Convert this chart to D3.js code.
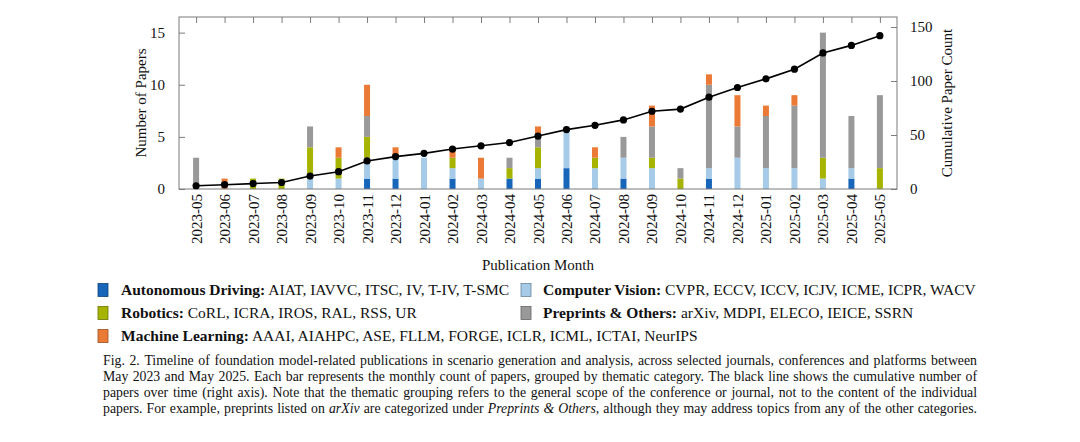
<!DOCTYPE html>
<html>
<head>
<meta charset="utf-8">
<script src="https://cdn.jsdelivr.net/npm/d3@7"></script>
<style>
  html, body { margin: 0; padding: 0; background: #fff; }
  svg { display: block; }
  text { font-family: "Liberation Serif", "Times New Roman", serif; fill: #111; }
</style>
</head>
<body>
<svg id="chart" width="1080" height="442"></svg>
<script>
// ---------------- DATA ----------------
const months = ["2023-05","2023-06","2023-07","2023-08","2023-09","2023-10","2023-11","2023-12",
  "2024-01","2024-02","2024-03","2024-04","2024-05","2024-06","2024-07","2024-08","2024-09","2024-10",
  "2024-11","2024-12","2025-01","2025-02","2025-03","2025-04","2025-05"];

const autonomousDriving = [0,0,0,0,0,0,1,1,0,1,0,1,1,2,0,1,0,0,1,0,0,0,0,1,0];
const computerVision    = [0,0,0,0,1,1,2,2,3,1,1,0,1,4,2,2,2,0,1,3,2,2,1,1,0];
const robotics          = [0,0,1,1,3,2,2,0,0,1,0,1,2,0,1,0,1,1,0,0,0,0,2,0,2];
const preprintsOthers   = [3,0,0,0,2,0,2,0,0,0,0,1,1,0,0,2,3,1,8,3,5,6,12,5,7];
const machineLearning   = [0,1,0,0,0,1,3,1,0,1,2,0,1,0,1,0,2,0,1,3,1,1,0,0,0];

const cumulative = [3,4,5,6,12,16,26,30,33,37,40,43,49,55,59,64,72,74,85,94,102,111,126,133,142];

const seriesKeys   = ["ad","cv","rob","prep","ml"];
const seriesLabels = ["Autonomous Driving:","Computer Vision:","Robotics:","Preprints & Others:","Machine Learning:"];
const seriesVenues = [
  "AIAT, IAVVC, ITSC, IV, T-IV, T-SMC",
  "CVPR, ECCV, ICCV, ICJV, ICME, ICPR, WACV",
  "CoRL, ICRA, IROS, RAL, RSS, UR",
  "arXiv, MDPI, ELECO, IEICE, SSRN",
  "AAAI, AIAHPC, ASE, FLLM, FORGE, ICLR, ICML, ICTAI, NeurIPS"
];
const seriesColors = ["#1766b9","#a6cbe8","#a6b400","#999999","#eb7a36"];

const leftTicks  = [0,5,10,15];
const rightTicks = [0,50,100,150];

const xTitle = "Publication Month";
const yLeftTitle = "Number of Papers";
const yRightTitle = "Cumulative Paper Count";

const captionLines = [
  [["Fig. 2.  Timeline of foundation model-related publications in scenario generation and analysis, across selected journals, conferences and platforms between", false]],
  [["May 2023 and May 2025. Each bar represents the monthly count of papers, grouped by thematic category. The black line shows the cumulative number of", false]],
  [["papers over time (right axis). Note that the thematic grouping refers to the general scope of the conference or journal, not to the content of the individual", false]],
  [["papers. For example, preprints listed on", false],["arXiv", true],["are categorized under", false],["Preprints & Others,", true],["although they may address topics from any of the other categories.", false]]
];

// ---------------- LAYOUT ----------------
const svg = d3.select("#chart");
svg.append("rect").attr("width",1080).attr("height",442).attr("fill","#fff");

const L = 179, R = 897, T = 17, B = 189;
const frameColor = "#7a7a7a";

const rows = months.map((m,i) => ({
  month: m, ad: autonomousDriving[i], cv: computerVision[i], rob: robotics[i],
  prep: preprintsOthers[i], ml: machineLearning[i], cum: cumulative[i]
}));

const x = d3.scalePoint().domain(months).range([L, R]).padding(0.6);
const yL = d3.scaleLinear().domain([0, 16.5]).range([B, T]);
const yR = d3.scaleLinear().domain([0, 159.3]).range([B, T]);

const stack = d3.stack().keys(seriesKeys)(rows);
const barW = 6;

// bars
const g = svg.append("g");
stack.forEach((layer, li) => {
  g.append("g").attr("fill", seriesColors[li])
    .selectAll("rect").data(layer).join("rect")
    .attr("x", d => x(d.data.month) - barW/2)
    .attr("width", barW)
    .attr("y", d => yL(d[1]))
    .attr("height", d => Math.max(0, yL(d[0]) - yL(d[1])));
});

// ticks (inside) via axes
const tickLen = 6;
const axTop = d3.axisBottom(x).tickSize(tickLen).tickFormat("");
svg.append("g").attr("transform",`translate(0,${T})`).call(axTop)
  .call(s => s.select(".domain").remove())
  .call(s => s.selectAll("line").attr("stroke", frameColor));

const axLeft = d3.axisLeft(yL).tickValues(leftTicks).tickSize(-tickLen).tickPadding(8 + tickLen)
  .tickFormat(d3.format("d"));
svg.append("g").attr("transform",`translate(${L},0)`).call(axLeft)
  .call(s => s.select(".domain").remove())
  .call(s => s.selectAll("line").attr("stroke", frameColor))
  .call(s => s.selectAll("text").attr("font-size", 15).attr("font-family","Liberation Serif").attr("fill","#111"));

const axRight = d3.axisRight(yR).tickValues(rightTicks).tickSize(-tickLen).tickPadding(7 + tickLen)
  .tickFormat(d3.format("d"));
svg.append("g").attr("transform",`translate(${R},0)`).call(axRight)
  .call(s => s.select(".domain").remove())
  .call(s => s.selectAll("line").attr("stroke", frameColor))
  .call(s => s.selectAll("text").attr("font-size", 15).attr("font-family","Liberation Serif").attr("fill","#111"));

// frame
svg.append("rect").attr("x", L).attr("y", T).attr("width", R-L).attr("height", B-T)
  .attr("fill","none").attr("stroke", frameColor).attr("stroke-width", 1);

// x labels rotated
const axBottom = d3.axisBottom(x).tickSize(0).tickPadding(0);
const xa = svg.append("g").attr("transform",`translate(0,${B})`).call(axBottom);
xa.select(".domain").remove();
xa.selectAll("text")
  .attr("font-size", 15).attr("font-family","Liberation Serif").attr("fill","#111")
  .attr("text-anchor","end").attr("dy", null)
  .attr("dominant-baseline","central")
  .attr("transform","translate(0,5) rotate(-90)")
  .attr("y", 0).attr("x", 0);

// cumulative line
const line = d3.line().x(d => x(d.month)).y(d => yR(d.cum));
svg.append("path").datum(rows).attr("d", line)
  .attr("fill","none").attr("stroke","#000").attr("stroke-width",1.6);
svg.append("g").selectAll("circle").data(rows).join("circle")
  .attr("cx", d => x(d.month)).attr("cy", d => yR(d.cum)).attr("r", 3.6).attr("fill","#000");

// titles
svg.append("text").attr("x", 538).attr("y", 270).attr("text-anchor","middle")
  .attr("font-size", 15).text(xTitle);
svg.append("text").attr("transform","translate(141,103) rotate(-90)").attr("text-anchor","middle")
  .attr("dominant-baseline","central").attr("font-size", 15).text(yLeftTitle);
svg.append("text").attr("transform","translate(947,103) rotate(-90)").attr("text-anchor","middle")
  .attr("dominant-baseline","central").attr("font-size", 15).text(yRightTitle);

// legend
const legendPos = [
  {sx: 98, tx: 121, y: 290},
  {sx: 521, tx: 543, y: 290},
  {sx: 98, tx: 121, y: 313},
  {sx: 521, tx: 543, y: 313},
  {sx: 98, tx: 121, y: 336}
];
seriesKeys.forEach((k, i) => {
  const p = legendPos[i];
  svg.append("rect").attr("x", p.sx).attr("y", p.y - 6.5).attr("width", 10).attr("height", 13)
    .attr("fill", seriesColors[i]).attr("stroke", d3.color(seriesColors[i]).darker(1.2)).attr("stroke-width", 0.8);
  const t = svg.append("text").attr("x", p.tx).attr("y", p.y + 5).attr("font-size", 15.5);
  t.append("tspan").attr("font-weight","bold").text(seriesLabels[i]);
  t.append("tspan").text(" " + seriesVenues[i]);
});

// caption (justified)
const capL = 103, capR = 977, capY0 = 365, capDY = 16, capFS = 13.8;
const measurer = svg.append("text").attr("font-size", capFS).attr("x", -1000).attr("y", -1000);
function wordWidth(w, italic) {
  measurer.attr("font-style", italic ? "italic" : "normal").text(w);
  return measurer.node().getComputedTextLength();
}
captionLines.forEach((segs, li) => {
  const words = [];
  segs.forEach(([txt, it]) => txt.split(/ +/).forEach(w => { if (w) words.push({w, it}); }));
  words.forEach(o => o.width = wordWidth(o.w, o.it));
  const total = d3.sum(words, o => o.width);
  const gap = (capR - capL - total) / (words.length - 1);
  let cx = capL;
  words.forEach(o => {
    svg.append("text").attr("x", cx).attr("y", capY0 + li*capDY).attr("font-size", capFS)
      .attr("font-style", o.it ? "italic" : "normal").text(o.w);
    cx += o.width + gap;
  });
});
measurer.remove();
</script>
</body>
</html>
